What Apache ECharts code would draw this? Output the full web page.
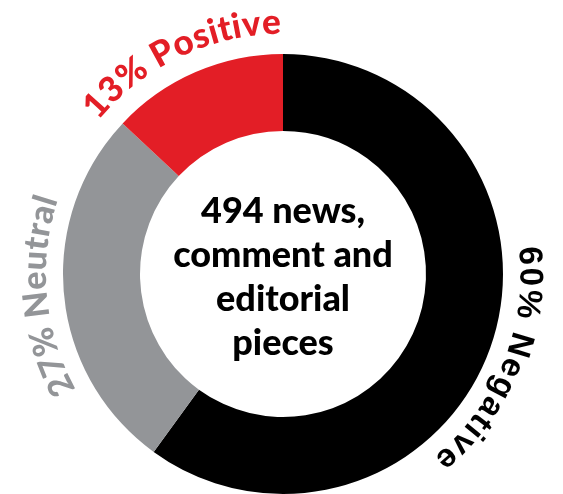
<!DOCTYPE html>
<html>
<head>
<meta charset="utf-8">
<script src="https://cdn.jsdelivr.net/npm/echarts@6/dist/echarts.min.js"></script>
<style>
html,body{margin:0;padding:0;background:#fff;}
#chart{width:563px;height:494px;}
</style>
</head>
<body>
<div id="chart"></div>
<script>
// ---- data ----
const categories = ['Negative', 'Neutral', 'Positive'];
const values = [60, 27, 13];
const labelTexts = ['60% Negative', '27% Neutral', '13% Positive'];
const centerLines = ['494 news,', 'comment and', 'editorial', 'pieces'];

// ---- layout / style ----
const CX = 283, CY = 274, R_IN = 143, R_OUT = 220;
const colors = ['#000000', '#939598', '#e31e26'];
const HEAVY = '"Lato Black", "Lato Heavy", "Lato"';
const labelStyles = [
  { font: '"Liberation Sans"', size: 33, weight: 'bold', color: '#000000', spacing: 1.5, r: 230, shift: 4 },
  { font: HEAVY, size: 34, weight: '900', color: '#939598', spacing: 0, r: 231, shift: 0 },
  { font: HEAVY, size: 35, weight: '900', color: '#e31e26', spacing: 0, r: 234, shift: -2 }
];

const chart = echarts.init(document.getElementById('chart'), null, { renderer: 'canvas' });

const ctx = document.createElement('canvas').getContext('2d');
function fontStr(st) { return st.weight + ' ' + st.size + 'px ' + st.font; }
function measure(ch, st) {
  ctx.font = fontStr(st);
  return ctx.measureText(ch).width;
}

const total = values.reduce((a, b) => a + b, 0);
const graphics = [];
let cum = 0;
values.forEach((v, i) => {
  const st = labelStyles[i];
  const mid = (cum + v / 2) / total * 2 * Math.PI + st.shift * Math.PI / 180; // clockwise from top
  cum += v;
  const text = labelTexts[i];
  const widths = Array.from(text).map(ch => measure(ch, st));
  const totalW = widths.reduce((a, b) => a + b, 0) + st.spacing * (widths.length - 1);
  const r = st.r;
  let pos = -totalW / 2;
  Array.from(text).forEach((ch, k) => {
    const a = mid + (pos + widths[k] / 2) / r;
    pos += widths[k] + st.spacing;
    graphics.push({
      type: 'text',
      x: CX + r * Math.sin(a),
      y: CY - r * Math.cos(a),
      rotation: -a,
      silent: true,
      style: {
        text: ch,
        fill: st.color,
        font: fontStr(st),
        align: 'center',
        verticalAlign: 'bottom'
      }
    });
  });
});

graphics.push({
  type: 'text',
  x: CX,
  y: CY + 3,
  silent: true,
  style: {
    text: centerLines.join('\n'),
    fill: '#000',
    font: '900 36px ' + HEAVY,
    lineHeight: 44,
    align: 'center',
    verticalAlign: 'middle'
  }
});

chart.setOption({
  animation: false,
  series: [{
    type: 'pie',
    center: [CX, CY],
    radius: [R_IN, R_OUT],
    startAngle: 90,
    clockwise: true,
    silent: true,
    label: { show: false },
    labelLine: { show: false },
    itemStyle: { borderWidth: 0 },
    data: categories.map((c, i) => ({ name: c, value: values[i], itemStyle: { color: colors[i] } }))
  }],
  graphic: graphics
});
</script>
</body>
</html>
